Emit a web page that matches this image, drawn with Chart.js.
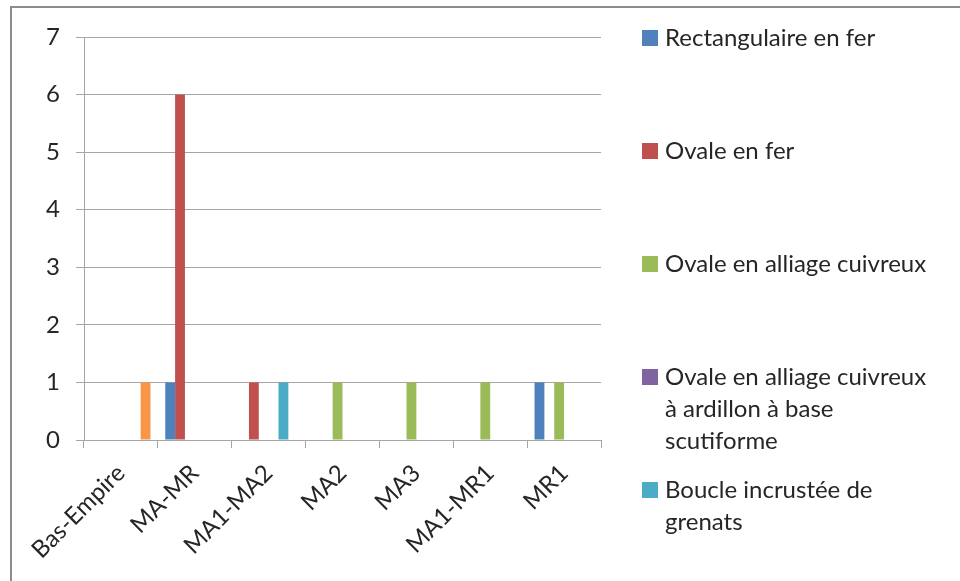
<!DOCTYPE html>
<html>
<head>
<meta charset="utf-8">
<script src="https://cdn.jsdelivr.net/npm/chart.js@4"></script>
<style>
  html, body { margin: 0; padding: 0; background: #fff; }
  #wrap { position: relative; width: 960px; height: 581px; overflow: hidden; }
  #frame { position: absolute; left: 10px; top: 6px; width: 1000px; height: 700px;
           border-top: 2px solid #8c8c8c; border-left: 2px solid #8c8c8c; box-sizing: border-box; }
  canvas { position: absolute; left: 0; top: 0; }
</style>
</head>
<body>
<div id="wrap">
  <div id="frame"></div>
  <canvas id="c" width="960" height="581"></canvas>
</div>
<script>
// Périodes (catégories)
const periods = ['Bas-Empire', 'MA-MR', 'MA1-MA2', 'MA2', 'MA3', 'MA1-MR1', 'MR1'];

// Nombre de boucles par type et par période
const rectangulaireFer   = [0, 1, 0, 0, 0, 0, 1];
const ovaleFer           = [0, 6, 1, 0, 0, 0, 0];
const ovaleCuivreux      = [0, 0, 0, 1, 1, 1, 1];
const ovaleScutiforme    = [0, 0, 0, 0, 0, 0, 0];
const boucleGrenats      = [0, 0, 1, 0, 0, 0, 0];
const sixiemeSerie       = [1, 0, 0, 0, 0, 0, 0];

const yTicks = [0, 1, 2, 3, 4, 5, 6, 7];

const FONT = 'Lato, "Open Sans", sans-serif';
const TEXT = '#262626';
const GRID = '#a6a6a6';

// Légende à droite, avec retour à la ligne des libellés longs
const sideLegend = {
  id: 'sideLegend',
  afterDraw(chart) {
    const ctx = chart.ctx;
    ctx.save();
    ctx.font = '24px ' + FONT;
    ctx.fillStyle = TEXT;
    ctx.textBaseline = 'middle';
    ctx.textAlign = 'left';
    const x0 = 642, tx = 665, maxW = 272, lineH = 32, step = 113;
    let y = 38;
    chart.data.datasets.forEach(ds => {
      if (!ds.label) return;
      // découpage en lignes
      const words = ds.label.split(' ');
      const lines = [];
      let cur = '';
      words.forEach(w => {
        const t = cur ? cur + ' ' + w : w;
        if (ctx.measureText(t).width > maxW && cur) { lines.push(cur); cur = w; }
        else cur = t;
      });
      if (cur) lines.push(cur);
      ctx.fillStyle = ds.backgroundColor;
      ctx.fillRect(x0, y - 8, 16, 16);
      ctx.fillStyle = TEXT;
      lines.forEach((l, i) => ctx.fillText(l, tx, y + i * lineH));
      y += step;
    });
    ctx.restore();
  }
};

new Chart(document.getElementById('c'), {
  type: 'bar',
  data: {
    labels: periods,
    datasets: [
      { label: 'Rectangulaire en fer', data: rectangulaireFer, backgroundColor: '#4f81bd' },
      { label: 'Ovale en fer', data: ovaleFer, backgroundColor: '#c0504d' },
      { label: 'Ovale en alliage cuivreux', data: ovaleCuivreux, backgroundColor: '#9bbb59' },
      { label: 'Ovale en alliage cuivreux à ardillon à base scutiforme', data: ovaleScutiforme, backgroundColor: '#8064a2' },
      { label: 'Boucle incrustée de grenats', data: boucleGrenats, backgroundColor: '#4bacc6' },
      { label: '', data: sixiemeSerie, backgroundColor: '#f79646' }
    ]
  },
  options: {
    responsive: false,
    animation: false,
    events: [],
    layout: { padding: { top: 37, right: 359, left: 0, bottom: 0 } },
    datasets: { bar: { categoryPercentage: 0.8, barPercentage: 1.0, borderWidth: 0 } },
    plugins: { legend: { display: false }, tooltip: { enabled: false } },
    scales: {
      x: {
        afterFit(s) { s.height = 141; },
        grid: { display: true, drawOnChartArea: false, drawTicks: true, tickLength: 8, color: GRID, offset: true },
        border: { display: true, color: GRID },
        ticks: { autoSkip: false, maxRotation: 45, minRotation: 45, padding: 11, color: TEXT, font: { family: FONT, size: 24 } }
      },
      y: {
        min: 0, max: 7,
        afterFit(s) { s.width = 84; },
        afterBuildTicks(s) { s.ticks = yTicks.map(v => ({ value: v })); },
        grid: { color: GRID, tickLength: 8, drawTicks: true },
        border: { display: true, color: GRID },
        ticks: { padding: 16, color: TEXT, font: { family: FONT, size: 24 } }
      }
    }
  },
  plugins: [sideLegend]
});
</script>
</body>
</html>
